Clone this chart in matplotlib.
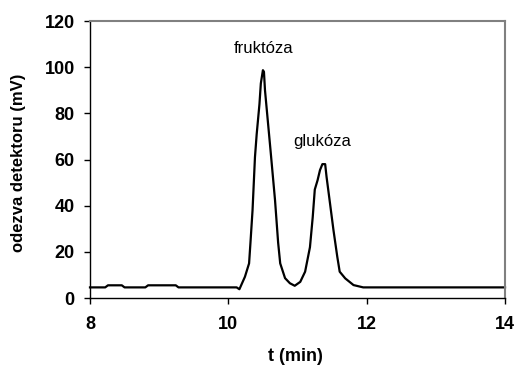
import matplotlib.pyplot as plt

# chromatogram trace
t = [8.0, 8.22, 8.26, 8.46, 8.50, 8.80, 8.84, 9.24, 9.28, 10.12, 10.16, 10.24, 10.30,
     10.32, 10.35, 10.385, 10.41, 10.45, 10.47, 10.50, 10.515, 10.53, 10.57, 10.61,
     10.675, 10.72, 10.75, 10.82, 10.89, 10.96, 11.04, 11.11, 11.18, 11.22, 11.25,
     11.29, 11.325, 11.36, 11.40, 11.42, 11.47, 11.52, 11.575, 11.61, 11.69, 11.81,
     11.95, 14.0]
signal = [4.6, 4.6, 5.5, 5.5, 4.6, 4.6, 5.5, 5.5, 4.6, 4.6, 3.8, 9.2, 15,
          24, 38, 61, 71, 84, 93, 98.7, 98, 90, 77, 64,
          42.4, 24, 15, 8.6, 6.4, 5.3, 7, 11.4, 22, 35, 47,
          51, 55.4, 58, 58, 52.5, 41, 29.4, 17.9, 11.4, 8.5, 5.6,
          4.6, 4.6]

peak_names = ['fruktóza', 'glukóza']
peak_pos = [(10.51, 108.2), (11.35, 68)]

x_ticks = [8, 10, 12, 14]
y_ticks = [0, 20, 40, 60, 80, 100, 120]

plt.rcParams['font.family'] = ['Liberation Sans', 'DejaVu Sans']

fig = plt.figure(figsize=(5.16, 3.69), dpi=100)
ax = fig.add_axes([0.1744, 0.1924, 0.8043, 0.7506])

ax.plot(t, signal, color='black', lw=1.6, clip_on=False)

for name, (px, py) in zip(peak_names, peak_pos):
    ax.text(px, py, name, ha='center', va='center', fontsize=12)

ax.set_xlim(8, 14)
ax.set_ylim(0, 120)
ax.set_xticks(x_ticks)
ax.set_yticks(y_ticks)
ax.tick_params(direction='out', length=4, width=1, labelsize=13)
ax.tick_params(axis='x', pad=9)
ax.tick_params(axis='y', pad=7)
for lab in ax.get_xticklabels() + ax.get_yticklabels():
    lab.set_fontweight('bold')

ax.set_xlabel('t (min)', fontsize=13, fontweight='bold')
ax.set_ylabel('odezva detektoru (mV)', fontsize=12, fontweight='bold')
ax.xaxis.set_label_coords(0.496, -0.18)
ax.yaxis.set_label_coords(-0.155, 0.487)

for side in ['top', 'right']:
    ax.spines[side].set_color('#808080')
    ax.spines[side].set_linewidth(1.5)
for side in ['left', 'bottom']:
    ax.spines[side].set_color('black')
    ax.spines[side].set_linewidth(1)

fig.savefig('out.png', dpi=100)
